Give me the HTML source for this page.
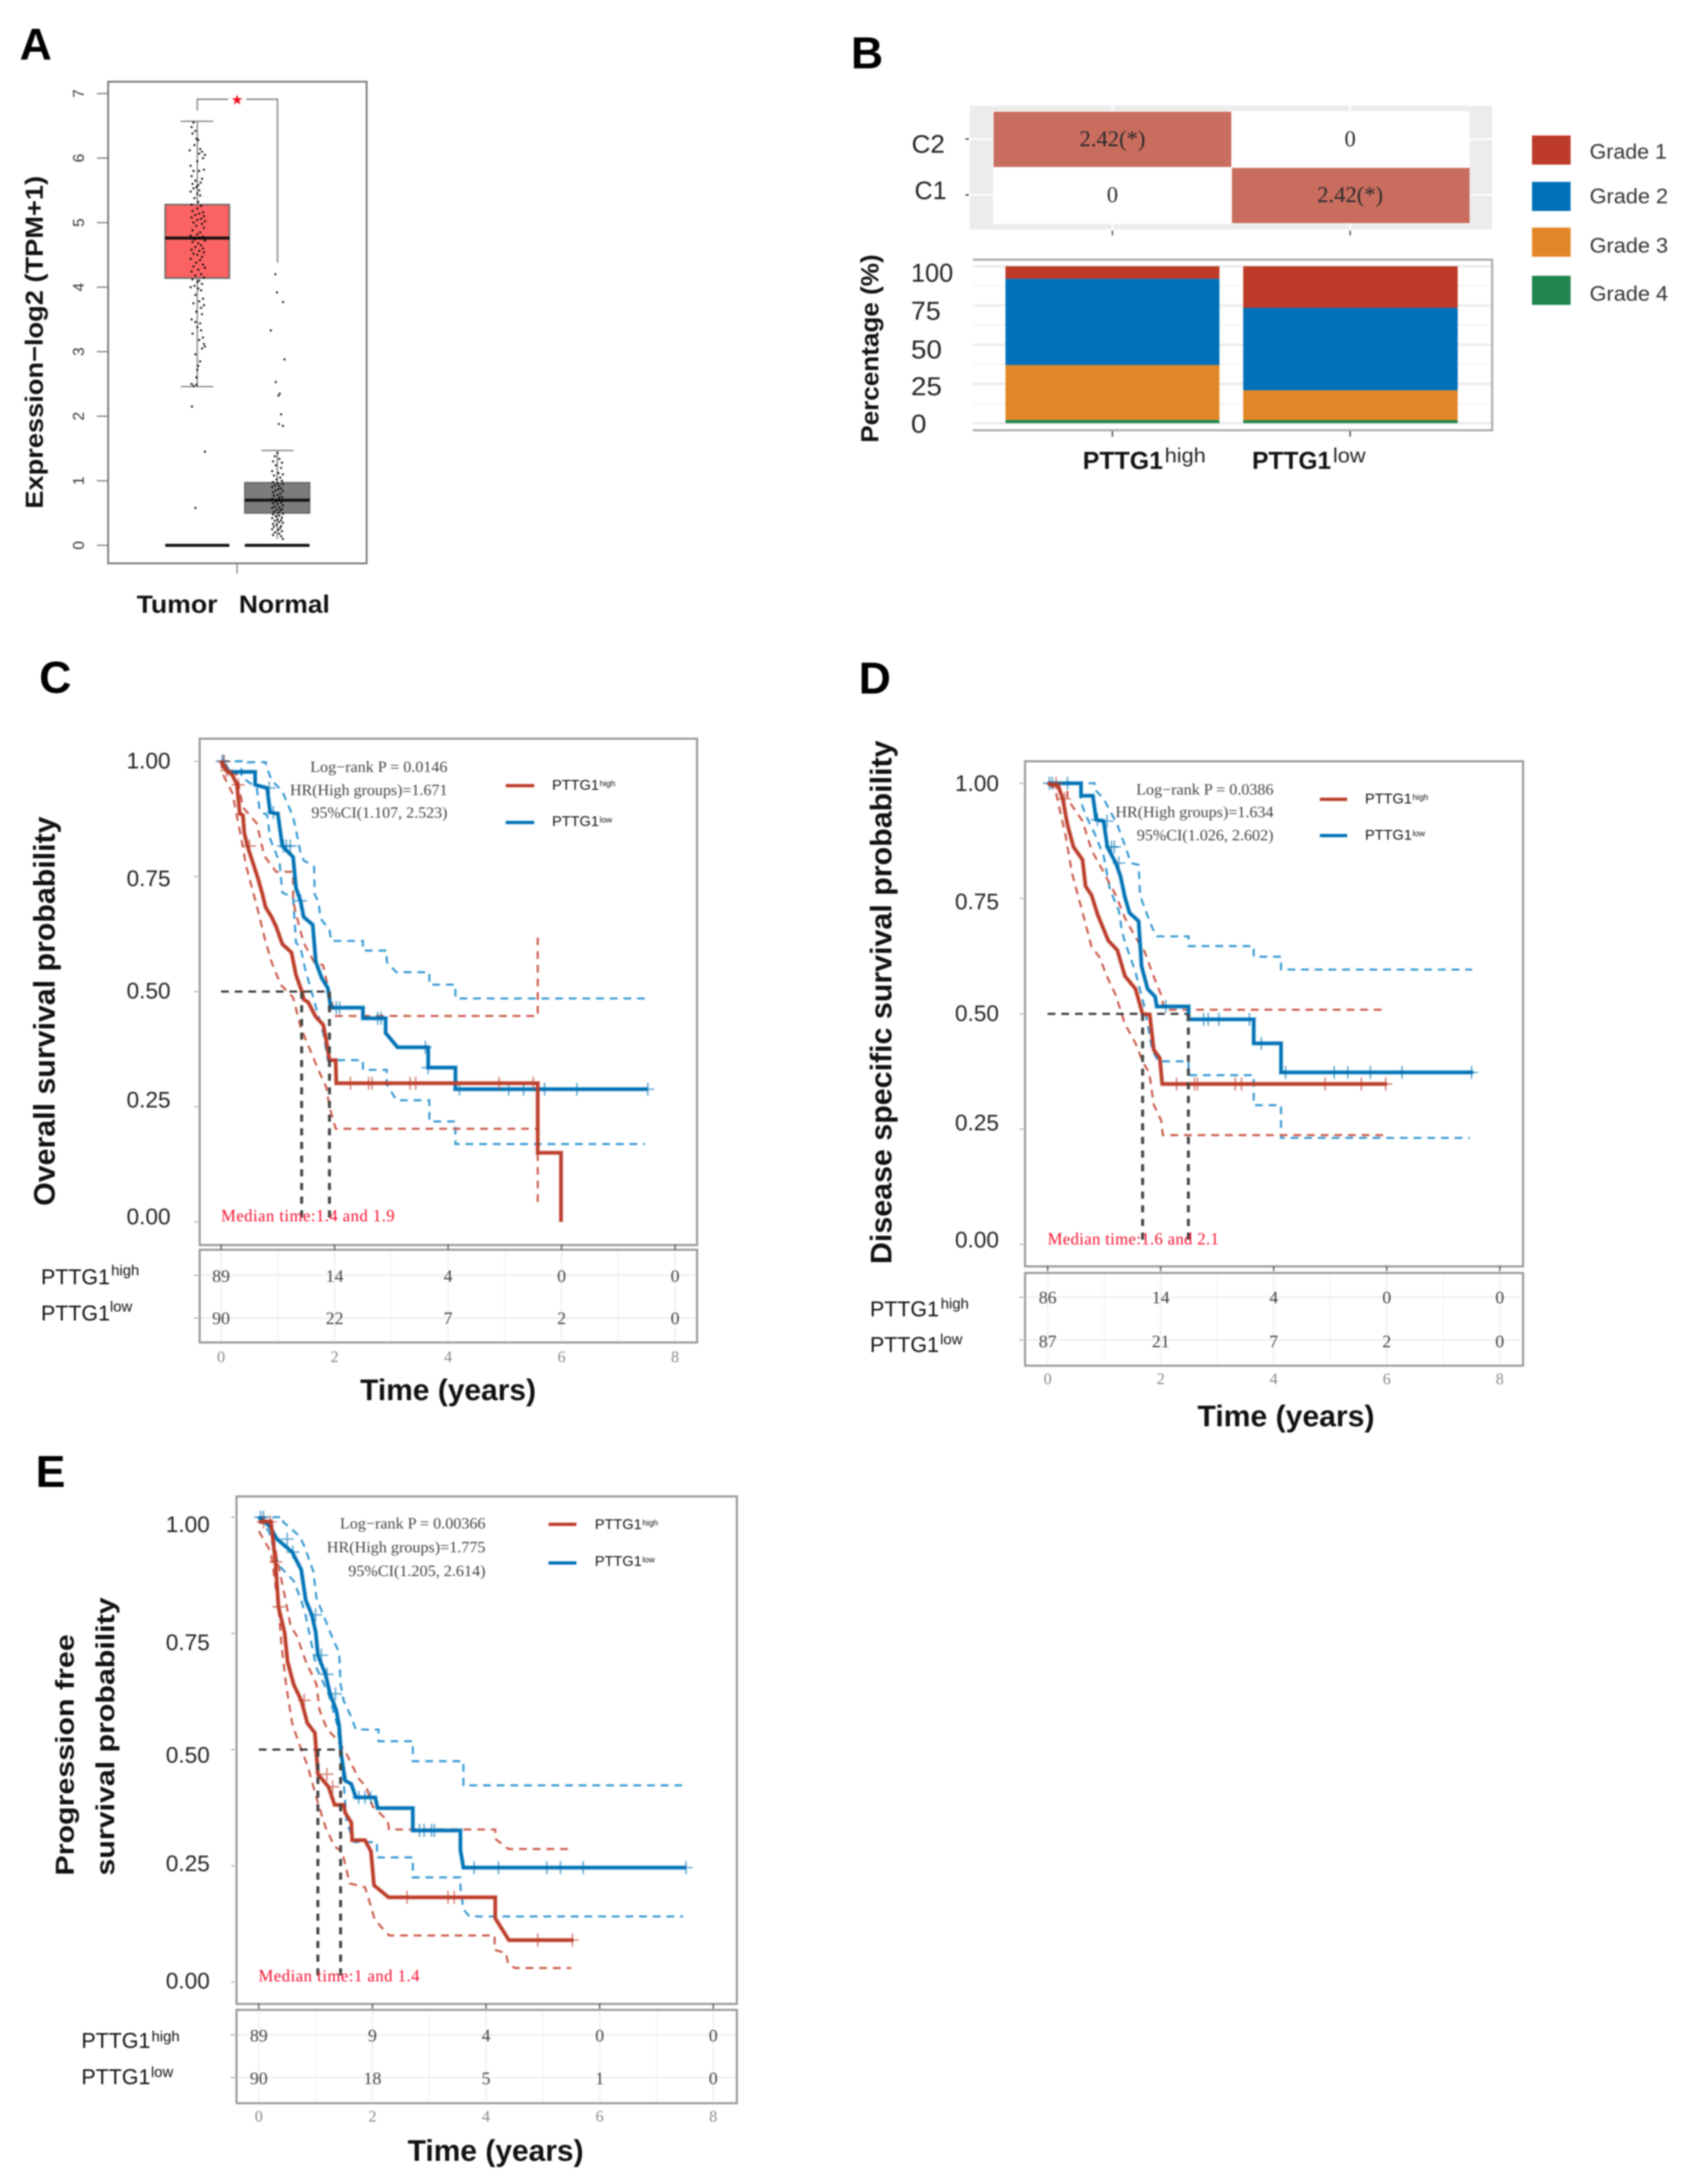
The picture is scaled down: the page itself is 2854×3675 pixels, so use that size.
<!DOCTYPE html>
<html lang="en">
<head>
<meta charset="utf-8">
<title>PTTG1 expression, grade and survival panels</title>
<style>
html,body{margin:0;padding:0;background:#fff;width:2854px;height:3675px;overflow:hidden}
svg{display:block;filter:blur(1.4px)}
text{font-family:"Liberation Sans",Arial,sans-serif}
.serif{font-family:"Liberation Serif","Times New Roman",serif}
.letter{font-size:75px;font-weight:bold;fill:#000}
.ttl{font-weight:bold;fill:#111}
.stat{font-family:"Liberation Serif",serif;font-size:26px;fill:#444}
.med{font-family:"Liberation Serif",serif;font-size:28px;fill:#f5102e}
.leg{font-size:24.5px;fill:#111}
.legs{font-size:14px;fill:#111}
.row{font-size:36px;fill:#111}
.rows{font-size:25px;fill:#111}
</style>
</head>
<body>
<svg id="fig" xmlns="http://www.w3.org/2000/svg" width="2854" height="3675" viewBox="0 0 2854 3675">
<rect x="0" y="0" width="2854" height="3675" fill="#fff"/>

<!-- Panel letters -->
<text class="letter" x="33" y="100">A</text>
<text class="letter" x="1432" y="115">B</text>
<text class="letter" x="66" y="1166">C</text>
<text class="letter" x="1445" y="1167">D</text>
<text class="letter" x="60" y="2502">E</text>

<!-- Panel A static text -->
<g id="panelA">
<text class="ttl" transform="translate(72,856) rotate(-90)" font-size="42" textLength="560" lengthAdjust="spacingAndGlyphs">Expression−log2 (TPM+1)</text>
<text class="ttl" x="230" y="1031" font-size="42" textLength="136" lengthAdjust="spacingAndGlyphs">Tumor</text>
<text class="ttl" x="402" y="1031" font-size="42" textLength="153" lengthAdjust="spacingAndGlyphs">Normal</text>
<text x="399" y="176" font-size="24" fill="#f01020" text-anchor="middle">★</text>
</g>

<!-- Panel B static text -->
<g id="panelB">
<text x="1534" y="257" font-size="43" fill="#222" textLength="56" lengthAdjust="spacingAndGlyphs">C2</text>
<text x="1539" y="335" font-size="43" fill="#222" textLength="54" lengthAdjust="spacingAndGlyphs">C1</text>
<text class="ttl" transform="translate(1478,745) rotate(-90)" font-size="42" textLength="317" lengthAdjust="spacingAndGlyphs">Percentage (%)</text>
<text class="ttl" x="1822" y="789" font-size="42" textLength="135" lengthAdjust="spacingAndGlyphs">PTTG1</text>
<text x="1960" y="778" font-size="34" fill="#222" textLength="69" lengthAdjust="spacingAndGlyphs">high</text>
<text class="ttl" x="2107" y="789" font-size="42" textLength="133" lengthAdjust="spacingAndGlyphs">PTTG1</text>
<text x="2243" y="778" font-size="34" fill="#222" textLength="55" lengthAdjust="spacingAndGlyphs">low</text>
<text x="2675" y="267" font-size="35" fill="#333" textLength="130" lengthAdjust="spacingAndGlyphs">Grade 1</text>
<text x="2675" y="342" font-size="35" fill="#333" textLength="132" lengthAdjust="spacingAndGlyphs">Grade 2</text>
<text x="2675" y="425" font-size="35" fill="#333" textLength="132" lengthAdjust="spacingAndGlyphs">Grade 3</text>
<text x="2675" y="506" font-size="35" fill="#333" textLength="132" lengthAdjust="spacingAndGlyphs">Grade 4</text>
</g>

<!-- Panel C -->
<g id="panelC"></g>
<g>
<text class="ttl" transform="translate(92,2029) rotate(-90)" font-size="50" textLength="655" lengthAdjust="spacingAndGlyphs">Overall survival probability</text>
<text class="stat" x="522" y="1299" textLength="231" lengthAdjust="spacingAndGlyphs">Log−rank P = 0.0146</text>
<text class="stat" x="488" y="1338" textLength="265" lengthAdjust="spacingAndGlyphs">HR(High groups)=1.671</text>
<text class="stat" x="524" y="1376" textLength="229" lengthAdjust="spacingAndGlyphs">95%CI(1.107, 2.523)</text>
<text class="med" x="372" y="2055" textLength="292">Median time:1.4 and 1.9</text>
<text class="leg" x="929" y="1329">PTTG1</text>
<text class="legs" x="1009" y="1323">high</text>
<text class="leg" x="929" y="1390">PTTG1</text>
<text class="legs" x="1009" y="1384">low</text>
<text class="row" x="69" y="2161">PTTG1</text>
<text class="rows" x="187" y="2146">high</text>
<text class="row" x="69" y="2222">PTTG1</text>
<text class="rows" x="185" y="2207">low</text>
<text class="ttl" x="606" y="2356" font-size="50" textLength="296" lengthAdjust="spacingAndGlyphs">Time (years)</text>
</g>

<!-- Panel D -->
<g id="panelD"></g>
<g>
<text class="ttl" transform="translate(1500,2127) rotate(-90)" font-size="50" textLength="881" lengthAdjust="spacingAndGlyphs">Disease specific survival probability</text>
<text class="stat" x="1912" y="1337" textLength="231" lengthAdjust="spacingAndGlyphs">Log−rank P = 0.0386</text>
<text class="stat" x="1877" y="1375" textLength="266" lengthAdjust="spacingAndGlyphs">HR(High groups)=1.634</text>
<text class="stat" x="1913" y="1414" textLength="230" lengthAdjust="spacingAndGlyphs">95%CI(1.026, 2.602)</text>
<text class="med" x="1763" y="2094" textLength="288">Median time:1.6 and 2.1</text>
<text class="leg" x="2297" y="1352">PTTG1</text>
<text class="legs" x="2377" y="1346">high</text>
<text class="leg" x="2297" y="1413">PTTG1</text>
<text class="legs" x="2377" y="1407">low</text>
<text class="row" x="1464" y="2215">PTTG1</text>
<text class="rows" x="1583" y="2202">high</text>
<text class="row" x="1464" y="2275">PTTG1</text>
<text class="rows" x="1582" y="2262">low</text>
<text class="ttl" x="2015" y="2400" font-size="50" textLength="298" lengthAdjust="spacingAndGlyphs">Time (years)</text>
</g>

<!-- Panel E -->
<g id="panelE"></g>
<g>
<text class="ttl" transform="translate(124,3156) rotate(-90)" font-size="44" textLength="406" lengthAdjust="spacingAndGlyphs">Progression free</text>
<text class="ttl" transform="translate(192,3156) rotate(-90)" font-size="44" textLength="468" lengthAdjust="spacingAndGlyphs">survival probability</text>
<text class="stat" x="572" y="2572" textLength="245" lengthAdjust="spacingAndGlyphs">Log−rank P = 0.00366</text>
<text class="stat" x="550" y="2612" textLength="267" lengthAdjust="spacingAndGlyphs">HR(High groups)=1.775</text>
<text class="stat" x="586" y="2652" textLength="231" lengthAdjust="spacingAndGlyphs">95%CI(1.205, 2.614)</text>
<text class="med" x="435" y="3334" textLength="271">Median time:1 and 1.4</text>
<text class="leg" x="1001" y="2573">PTTG1</text>
<text class="legs" x="1081" y="2567">high</text>
<text class="leg" x="1001" y="2635">PTTG1</text>
<text class="legs" x="1081" y="2629">low</text>
<text class="row" x="137" y="3446">PTTG1</text>
<text class="rows" x="255" y="3435">high</text>
<text class="row" x="137" y="3507">PTTG1</text>
<text class="rows" x="254" y="3495">low</text>
<text class="ttl" x="686" y="3636" font-size="50" textLength="296" lengthAdjust="spacingAndGlyphs">Time (years)</text>
</g>
</svg>

<script>
/* ---------- Panel A data ---------- */
const exprTicks = [0,1,2,3,4,5,6,7];
const tumorBox = {q1:4.14, median:4.76, q3:5.28, low:2.46, high:6.57};
const normalBox = {q1:0.50, median:0.70, q3:0.97, low:0, high:1.47};
const tumorValues = [6.55,6.48,6.42,6.38,6.3,6.28,6.2,6.14,6.12,6.1,6.07,6.05,6.0,5.95,5.88,5.82,5.8,5.8,5.72,5.68,5.65,5.62,5.6,5.58,5.55,5.53,5.5,5.48,5.45,5.42,5.38,5.32,5.28,5.26,5.22,5.18,5.16,5.14,5.12,5.1,5.08,5.06,5.04,5.02,5.0,4.98,4.95,4.92,4.88,4.85,4.82,4.8,4.78,4.76,4.74,4.72,4.7,4.68,4.65,4.62,4.6,4.58,4.56,4.54,4.52,4.5,4.47,4.44,4.42,4.38,4.35,4.32,4.3,4.27,4.24,4.2,4.18,4.15,4.12,4.1,4.08,4.05,4.02,4.0,3.98,3.95,3.88,3.82,3.78,3.75,3.72,3.68,3.62,3.58,3.5,3.46,3.44,3.38,3.33,3.28,3.22,3.18,3.12,3.08,3.05,2.96,2.85,2.78,2.72,2.6,2.5,2.49,2.47,2.15,1.45,0.58];
const tumorJitter = [-.4,-.6,-.2,-.5,-.1,.1,-.3,.3,-.8,.5,.2,.8,.6,.0,-.7,.7,-.4,.2,-.6,.5,-.2,.35,-.5,.1,-.1,-.4,.2,-.7,.0,.3,-.3,.1,-.6,.4,.0,-.5,.6,.2,-.2,.7,-.6,.4,.0,.8,-.4,.5,-.1,.7,-.5,.3,.0,-.7,.6,.2,-.3,.8,-.5,.1,.4,-.2,.6,-.6,.2,.7,-.4,.0,.5,-.7,.3,-.1,.6,-.4,.8,.1,-.6,.4,-.2,.7,-.5,.2,.0,.5,-.3,-.7,.1,.4,-.2,.6,.2,-.4,.7,.4,-.1,.5,-.6,-.2,.3,.0,.4,-.5,.6,.2,.7,.8,.5,-.2,.3,.1,.0,-.1,-.6,-.1,-.4,-.56,.8,-.2];
const normalValues = [4.2,3.92,3.77,3.33,2.88,2.53,2.35,2.32,2.03,1.88,1.85,1.43,1.38,1.34,1.3,1.28,1.24,1.2,1.15,1.12,1.1,1.08,1.05,1.02,1.0,.98,.96,.95,.93,.92,.9,.88,.87,.85,.84,.82,.8,.78,.77,.75,.74,.72,.7,.69,.68,.66,.65,.64,.62,.6,.59,.58,.56,.55,.54,.52,.5,.49,.48,.46,.45,.43,.42,.4,.39,.38,.36,.35,.33,.32,.3,.29,.27,.25,.24,.22,.2,.18,.16,.14,.1];
const normalJitter = [-.25,-.06,.62,-.75,.78,-.19,.25,.1,.4,.15,.6,.0,-.3,.2,-.5,.5,-.2,.4,-.6,.1,.6,-.4,.3,-.1,.5,-.5,.0,.6,-.3,.2,-.6,.4,.1,-.2,.6,-.5,.3,.0,-.4,.5,.2,-.6,.1,.7,-.2,.4,-.5,.0,.6,-.3,.2,-.6,.5,-.1,.3,-.4,.1,.6,-.5,.2,-.2,.5,-.6,.0,.4,-.3,.2,.6,-.5,-.1,.4,-.4,.3,-.6,.1,.5,-.3,.2,-.5,.4,.6];

/* ---------- Panel B data ---------- */
const heatRows = ['C2','C1'];
const heatValues = [[2.42,0],[0,2.42]];
const heatLabels = [['2.42(*)','0'],['0','2.42(*)']];
const gradeNames = ['Grade 1','Grade 2','Grade 3','Grade 4'];
const gradeHigh = [8,55,35,2];
const gradeLow = [26.5,52.6,19,1.9];
const pctTicks = [0,25,50,75,100];
const pctTickLabels = ['0','25','50','75','100'];

/* ---------- Shared KM axes ---------- */
const yearTicks = [0,2,4,6,8];
const survTicks = [1,0.75,0.5,0.25,0];
const survTickLabels = ['1.00','0.75','0.50','0.25','0.00'];

/* ---------- Panel C data ---------- */
const cHighT = [0,.09,.2,.28,.33,.385,.41,.465,.52,.65,.73,.785,.89,.97,1.08,1.24,1.32,1.43,1.455,1.535,1.67,1.8,1.855,1.91,2.02,2.03,5.58,5.99];
const cHighS = [1,.98,.97,.949,.886,.883,.844,.816,.795,.746,.711,.683,.662,.641,.603,.585,.536,.498,.483,.477,.445,.428,.393,.351,.351,.301,.15,0];
const cLowT = [0,.09,.14,.60,.81,.866,1.0,1.08,1.27,1.32,1.40,1.455,1.615,1.67,1.775,1.88,1.935,2.50,2.90,3.11,3.65,4.13,7.52];
const cLowS = [1,.987,.977,.949,.942,.889,.886,.816,.792,.725,.697,.662,.645,.564,.529,.508,.465,.442,.410,.379,.335,.288,.288];
const cLowUpT = [0,.47,.79,.89,1.08,1.27,1.32,1.40,1.455,1.64,1.65,1.72,1.75,1.91,1.94,2.50,2.92,3.09,3.67,4.13,7.52];
const cLowUpS = [1,.998,.991,.959,.935,.879,.851,.802,.785,.771,.711,.694,.659,.634,.610,.589,.564,.542,.515,.485,.485];
const cLowLoT = [0,.36,.63,.68,.81,.87,1.03,1.08,1.27,1.32,1.40,1.48,1.64,1.80,1.88,2.50,2.92,3.09,3.67,4.13,7.47];
const cLowLoS = [1,.966,.942,.893,.883,.830,.781,.715,.704,.606,.596,.550,.480,.410,.351,.330,.299,.264,.218,.169,.169];
const cHighUpT = [0,.28,.385,.63,.76,.97,1.27,1.32,1.455,1.64,1.80,1.91,2.02,5.58];
const cHighUpS = [1,.970,.900,.865,.795,.760,.697,.669,.606,.564,.557,.494,.447,.624];
const cHighLoT = [0,.04,.20,.36,.44,.65,.76,.89,1.05,1.27,1.40,1.535,1.70,1.855,1.91,2.02,5.58];
const cHighLoS = [1,.97,.931,.830,.774,.676,.620,.564,.515,.487,.424,.383,.334,.292,.250,.202,.033];
const cHighCensor = [.05,.1,.3,.5,2.28,2.6,2.66,3.33,3.43,4.9,5.5];
const cLowCensor = [.02,.05,.85,.92,1.1,1.15,1.22,1.4,2.03,2.09,2.76,2.82,3.6,3.65,4.2,5.07,5.33,5.7,6.27,7.52];
const cMedians = [1.42,1.91];
const cRiskHigh = [89,14,4,0,0];
const cRiskLow = [90,22,7,2,0];

/* ---------- Panel D data ---------- */
const dHighT = [0,.188,.268,.349,.456,.617,.670,.777,.885,1.072,1.233,1.367,1.555,1.678,1.807,1.877,1.984,2.027,6.005];
const dHighS = [1,.994,.966,.911,.862,.834,.777,.757,.715,.659,.638,.582,.554,.500,.498,.422,.404,.348,.348];
const dLowT = [0,.59,.80,.858,.99,1.056,1.206,1.287,1.367,1.448,1.609,1.662,1.769,1.903,1.93,2.493,3.646,4.129,7.53];
const dLowS = [1,.973,.973,.921,.918,.862,.827,.799,.753,.719,.701,.603,.554,.537,.516,.488,.436,.373,.373];
const dLowUpT = [0,.456,.831,.992,1.233,1.367,1.475,1.609,1.635,1.716,1.85,1.93,2.493,3.646,4.129,7.51];
const dLowUpS = [1,1,.987,.966,.910,.865,.827,.823,.757,.729,.687,.668,.647,.624,.596,.596];
const dLowLoT = [0,.59,.67,.831,.992,1.099,1.26,1.314,1.367,1.555,1.716,1.85,1.957,2.493,3.646,4.129,7.47];
const dLowLoS = [1,.959,.932,.891,.842,.771,.723,.680,.656,.590,.513,.422,.397,.367,.302,.231,.231];
const dHighUpT = [0,.349,.617,.777,.965,1.206,1.367,1.555,1.716,1.85,2.011,2.064,5.98];
const dHighUpS = [1,.966,.918,.855,.813,.757,.708,.666,.635,.589,.540,.509,.509];
const dHighLoT = [0,.134,.322,.429,.643,.777,.912,1.046,1.206,1.367,1.555,1.689,1.796,1.877,2.011,2.038,5.98];
const dHighLoS = [1,.987,.883,.806,.708,.645,.624,.582,.540,.478,.436,.394,.373,.303,.268,.237,.237];
const dHighCensor = [.15,.3,2.28,2.6,2.65,3.32,3.43,4.91,5.55,5.98];
const dLowCensor = [.03,.08,.35,.88,1.05,1.13,1.18,1.26,2.09,2.76,2.84,3.03,3.57,3.78,4.21,5.07,5.31,5.71,6.27,7.5];
const dMedians = [1.68,2.49];
const dRiskHigh = [86,14,4,0,0];
const dRiskLow = [87,21,7,2,0];

/* ---------- Panel E data ---------- */
const eHighT = [0,.213,.293,.347,.454,.507,.614,.747,.854,.987,1.041,1.227,1.334,1.494,1.521,1.628,1.644,1.87,1.974,2.028,2.284,4.162,4.402,5.54];
const eHighS = [.99,.991,.904,.807,.752,.689,.640,.606,.557,.536,.447,.420,.381,.381,.364,.343,.305,.305,.281,.208,.182,.137,.090,.090];
const eLowT = [0,.187,.32,.587,.747,.827,.934,1.003,1.041,1.174,1.254,1.361,1.414,1.451,1.521,1.628,1.708,2.05,2.092,2.711,3.549,3.602,7.52];
const eLowS = [1,.981,.953,.925,.887,.821,.790,.752,.703,.662,.620,.586,.551,.489,.433,.426,.397,.397,.374,.326,.284,.246,.246];
const eLowUpT = [0,.427,.720,.800,.961,1.014,1.174,1.307,1.414,1.441,1.494,1.628,1.708,2.108,2.711,3.602,7.52];
const eLowUpS = [1,.990,.959,.938,.883,.827,.778,.737,.709,.640,.605,.570,.543,.518,.475,.423,.423];
const eLowLoT = [0,.187,.347,.614,.747,.827,.934,1.014,1.227,1.387,1.467,1.547,1.681,2.081,2.711,3.549,3.602,3.709,7.47];
const eLowLoS = [1,.967,.897,.863,.821,.787,.724,.676,.620,.551,.475,.343,.301,.268,.225,.204,.156,.141,.141];
const eHighUpT = [0,.213,.32,.427,.56,.667,.827,1.014,1.067,1.201,1.334,1.521,1.761,1.894,2.001,2.268,2.294,4.162,4.392,5.50];
const eHighUpS = [1,.987,.911,.849,.766,.745,.690,.641,.586,.544,.527,.496,.437,.420,.378,.347,.328,.308,.286,.286];
const eHighLoT = [0,.213,.347,.40,.48,.587,.64,.72,.854,1.041,1.174,1.334,1.467,1.601,1.868,1.974,2.028,2.134,2.295,4.151,4.349,4.392,4.509,5.50];
const eHighLoS = [.97,.925,.807,.724,.640,.557,.537,.509,.467,.385,.333,.291,.281,.212,.204,.163,.139,.121,.100,.069,.062,.038,.030,.030];
const eHighCensor = [.08,.2,.3,.35,.8,1.2,1.3,2.61,3.33,3.44,4.91,5.52];
const eLowCensor = [.03,.08,.5,.6,1.0,1.1,1.2,1.35,1.76,1.87,1.97,2.83,2.91,3.04,3.09,3.79,4.22,5.07,5.31,5.71,7.52];
const eMedians = [1.04,1.44];
const eRiskHigh = [89,9,4,0,0];
const eRiskLow = [90,18,5,1,0];

/* ---------- helpers ---------- */
const SVGNS = 'http://www.w3.org/2000/svg';
function mk(parent, tag, attrs, txt){
  const n = document.createElementNS(SVGNS, tag);
  for (const k in attrs) n.setAttribute(k, attrs[k]);
  if (txt !== undefined) n.textContent = txt;
  parent.appendChild(n);
  return n;
}

/* ---------- Panel A ---------- */
(function(){
  const g = document.getElementById('panelA');
  const yA = v => 917.6 - v * 108.6;
  const frame = mk(g,'rect',{x:182,y:137.5,width:435,height:810.5,fill:'none',stroke:'#777',"stroke-width":3});
  
  
  exprTicks.forEach(v => {
    const t = mk(g,'line',{x1:163,x2:182,y1:yA(v),y2:yA(v),stroke:'#777',"stroke-width":2});
    
    
    const l = mk(g,'text',{transform:`translate(141,${yA(v)}) rotate(-90)`,"text-anchor":'middle',"font-size":26,fill:'#333'},String(v));
    
    
  });
  const xt = mk(g,'line',{x1:399,x2:399,y1:948,y2:965,stroke:'#777',"stroke-width":2});
  
  
  const br = mk(g,'path',{d:'M332 186V167H384M414 167H467V442',fill:'none',stroke:'#888',"stroke-width":2.5});
  
  

  function box(b, x0, x1, fill, capX0, capX1){
    const cx = (x0+x1)/2;
    const w = mk(g,'path',{d:`M${capX0} ${yA(b.high)}H${capX1}M${cx} ${yA(b.high)}V${yA(b.q3)}` + (b.low>0 ? `M${cx} ${yA(b.q1)}V${yA(b.low)}M${capX0} ${yA(b.low)}H${capX1}` : `M${cx} ${yA(b.q1)}V${yA(0.1)}`),stroke:'#777',"stroke-width":2,fill:'none'});
    
    
    const r = mk(g,'rect',{x:x0,y:yA(b.q3),width:x1-x0,height:yA(b.q1)-yA(b.q3),fill:fill,stroke:'#666',"stroke-width":2.5});
    
    
    const m = mk(g,'line',{x1:x0,x2:x1,y1:yA(b.median),y2:yA(b.median),stroke:'#111',"stroke-width":5});
    
    
    const z = mk(g,'line',{x1:x0,x2:x1,y1:yA(0),y2:yA(0),stroke:'#111',"stroke-width":5});
    
    
  }
  box(tumorBox,278,386,'#fb6262',304,359);
  box(normalBox,412,521,'#7c7c7c',440,494);

  tumorValues.forEach((v,i) => {
    const d = mk(g,'circle',{cx:332+(tumorJitter[i]||0)*16,cy:yA(v),r:1.7,fill:'#000'});
    
    
  });
  normalValues.forEach((v,i) => {
    const d = mk(g,'circle',{cx:467+(normalJitter[i]||0)*15,cy:yA(v),r:1.7,fill:'#000'});
    
    
  });
})();

/* ---------- Panel B ---------- */
(function(){
  const g = document.getElementById('panelB');
  const bg = mk(g,'rect',{x:1632,y:178,width:879,height:208,fill:'#ececec'});
  
  
  const colX = [1872,2272];
  const rowY = [234,328];
  const gr = mk(g,'path',{d:'M1632 234H2511M1632 328H2511M1872 178V386M2272 178V386',stroke:'#fff',"stroke-width":3});
  
  
  const pn = mk(g,'rect',{x:1671,y:187,width:802,height:190,fill:'#fff'});
  
  
  heatRows.forEach((rowName,r) => {
    heatValues[r].forEach((v,c) => {
      const cell = mk(g,'rect',{x:1672+c*401,y:188+r*94.5,width:400,height:93,fill:v>0?'#c96d5f':'#fff'});
      
      
      const t = mk(g,'text',{class:'serif',x:colX[c],y:rowY[r]+12,"text-anchor":'middle',"font-size":38,fill:'#2a2a2a'},heatLabels[r][c]);
      
      
    });
    const tk = mk(g,'line',{x1:1625,x2:1630,y1:rowY[r],y2:rowY[r],stroke:'#555',"stroke-width":3});
    
    
  });
  colX.forEach(x => {
    const t = mk(g,'line',{x1:x,x2:x,y1:388,y2:396,stroke:'#555',"stroke-width":2.5});
    
    
    const t2 = mk(g,'line',{x1:x,x2:x,y1:724,y2:735,stroke:'#555',"stroke-width":2.5});
    
    
  });

  const yB = p => 712 - p * 2.64;
  for (let p = 0; p <= 100; p += 12.5){
    const l = mk(g,'line',{x1:1637,x2:2511,y1:yB(p),y2:yB(p),stroke:p%25===0?'#ececec':'#f6f6f6',"stroke-width":p%25===0?4:3});
    
    
  }
  const fr = mk(g,'path',{d:'M1637 437H2511V724H1637',fill:'none',stroke:'#aaa',"stroke-width":3.5});
  
  
  const colors = ['#bc3a27','#0071b8','#e18727','#20854e'];
  [[gradeHigh,1692,360],[gradeLow,2092,361]].forEach(([vals,x,w]) => {
    let top = 100;
    vals.forEach((v,i) => {
      const r = mk(g,'rect',{x:x,y:yB(top),width:w,height:v*2.64,fill:colors[i]});
      
      
      top -= v;
    });
  });
  const pctBase = {0:728,25:665,50:603,75:538,100:474};
  const pctWide = {0:26,25:52,50:52,75:50,100:71};
  pctTicks.forEach((p,i) => {
    const t = mk(g,'text',{x:1533,y:pctBase[p],"font-size":44,fill:'#222',textLength:pctWide[p],lengthAdjust:'spacingAndGlyphs'},pctTickLabels[i]);
    
    
  });
  gradeNames.forEach((nm,i) => {
    const boxes = [228,306,383,464];
    const r = mk(g,'rect',{x:2578,y:boxes[i],width:65,height:49,fill:colors[i]});
    
    
  });
})();

/* ---------- KM panels ---------- */
const RED = '#bc3c29', BLUE = '#0072b5', RED_CI = '#cc5f50', BLUE_CI = '#3b9bd3';

function stepPath(xs, ys, T, S){
  let d = `M${xs(T[0])} ${ys(S[0])}`;
  for (let i = 1; i < T.length; i++){
    if (T[i]-T[i-1] < 0.3 && S[i] !== S[i-1]) d += `L${xs(T[i])} ${ys(S[i])}`;
    else d += `H${xs(T[i])}V${ys(S[i])}`;
  }
  return d;
}
function survAt(T, S, t){
  let v = S[0];
  for (let i = 0; i < T.length; i++){ if (T[i] <= t) v = S[i]; }
  return v;
}

function drawKM(cfg){
  const g = document.getElementById(cfg.id);
  const xs = t => cfg.x0 + t * cfg.ppy;
  const ys = s => cfg.y1 + (1 - s) * cfg.ppu;
  const fr = mk(g,'rect',{x:cfg.frame[0],y:cfg.frame[1],width:cfg.frame[2]-cfg.frame[0],height:cfg.frame[3]-cfg.frame[1],fill:'#fff',stroke:'#999',"stroke-width":3.5});
  
  
  const tb = mk(g,'rect',{x:cfg.frame[0],y:cfg.table[0],width:cfg.frame[2]-cfg.frame[0],height:cfg.table[1]-cfg.table[0],fill:'#fff',stroke:'#999',"stroke-width":3.5});
  
  

  for (let t = 0; t <= 8; t++){
    const v = mk(g,'line',{x1:cfg.x0+t*cfg.ppy,x2:cfg.x0+t*cfg.ppy,y1:cfg.table[0]+3,y2:cfg.table[1]-3,stroke:'#f0f0f0',"stroke-width":t%2?1.5:2.5});
    
    
  }
  cfg.rowY.forEach(y => {
    const h = mk(g,'line',{x1:cfg.frame[0]+3,x2:cfg.frame[2]-3,y1:y,y2:y,stroke:'#ececec',"stroke-width":2.5});
    
    
    const tk = mk(g,'line',{x1:cfg.frame[0]-10,x2:cfg.frame[0]-3,y1:y,y2:y,stroke:'#aaa',"stroke-width":2});
    
    
  });

  yearTicks.forEach((t,i) => {
    const k = mk(g,'line',{x1:xs(t),x2:xs(t),y1:cfg.frame[3]-1,y2:cfg.frame[3]+8,stroke:'#666',"stroke-width":2.5});
    
    
    const l = mk(g,'text',{class:'serif',x:xs(t),y:cfg.xLabBase,"text-anchor":'middle',"font-size":27,fill:'#888'},String(t));
    
    
    const a = mk(g,'text',{class:'serif',x:xs(t),y:cfg.numBase[0],"text-anchor":'middle',"font-size":30,fill:'#444'},String(cfg.riskHigh[i]));
    
    
    const b = mk(g,'text',{class:'serif',x:xs(t),y:cfg.numBase[1],"text-anchor":'middle',"font-size":30,fill:'#444'},String(cfg.riskLow[i]));
    
    
  });
  survTicks.forEach((s,i) => {
    const k = mk(g,'line',{x1:cfg.frame[0]-9,x2:cfg.frame[0]-3,y1:ys(s),y2:ys(s),stroke:'#aaa',"stroke-width":2});
    
    
    const l = mk(g,'text',{x:cfg.tickRight,y:ys(s)+cfg.labelDy[i],"text-anchor":'end',"font-size":38,fill:'#222'},survTickLabels[i]);
    
    
  });

  cfg.ci.forEach(c => {
    const p = mk(g,'path',{d:stepPath(xs,ys,c.T,c.S),fill:'none',stroke:c.color,"stroke-width":3.6,"stroke-dasharray":'13 10'});
    
    
  });

  const medTop = ys(0.5);
  const mh = mk(g,'line',{x1:xs(0),x2:xs(cfg.medians[1]),y1:medTop,y2:medTop,stroke:'#333',"stroke-width":3.5,"stroke-dasharray":'13 10'});
  
  

  [[cfg.low,BLUE,cfg.lowCensor],[cfg.high,RED,cfg.highCensor]].forEach(([s,col,cens]) => {
    const halo = mk(g,'path',{d:stepPath(xs,ys,s.T,s.S),fill:'none',stroke:col,"stroke-width":8.5,opacity:0.25});
    
    
    const p = mk(g,'path',{d:stepPath(xs,ys,s.T,s.S),fill:'none',stroke:col,"stroke-width":5.5});
    
    
    cens.forEach(t => {
      const x = xs(t), y = ys(survAt(s.T,s.S,t));
      const m = mk(g,'path',{d:`M${x} ${y-11}V${y+11}M${x-11} ${y}H${x+11}`,stroke:col,"stroke-width":2.6,opacity:0.6,fill:'none'});
      
      
    });
  });

  cfg.medians.forEach(t => {
    const v = mk(g,'line',{x1:xs(t),x2:xs(t),y1:medTop,y2:ys(0),stroke:'#444',"stroke-width":5,"stroke-dasharray":'12 11'});
    
    
  });

  const l1 = mk(g,'line',{x1:cfg.leg[0],x2:cfg.leg[1],y1:cfg.leg[2],y2:cfg.leg[2],stroke:RED,"stroke-width":5.5});
  
  
  const l2 = mk(g,'line',{x1:cfg.leg[0],x2:cfg.leg[1],y1:cfg.leg[3],y2:cfg.leg[3],stroke:BLUE,"stroke-width":5.5});
  
  
}

drawKM({id:'panelC',x0:372,ppy:95.5,y1:1281,ppu:775,frame:[336,1243,1173,2095],table:[2103,2259],rowY:[2146,2218],numBase:[2157,2228],xLabBase:2292,tickRight:287,labelDy:[12,16,11.5,1,4],leg:[851,899,1322,1384],
  high:{T:cHighT,S:cHighS},low:{T:cLowT,S:cLowS},
  ci:[{T:cLowUpT,S:cLowUpS,color:BLUE_CI},{T:cLowLoT,S:cLowLoS,color:BLUE_CI},{T:cHighUpT,S:cHighUpS,color:RED_CI},{T:cHighLoT,S:cHighLoS,color:RED_CI}],
  highCensor:cHighCensor,lowCensor:cLowCensor,medians:cMedians,riskHigh:cRiskHigh,riskLow:cRiskLow});

drawKM({id:'panelD',x0:1763,ppy:95.1,y1:1318,ppu:776,frame:[1725,1281,2563,2131],table:[2142,2298],rowY:[2183,2255],numBase:[2193,2267],xLabBase:2329,tickRight:1681,labelDy:[13,18,12,2,5],leg:[2221,2267,1345,1406],
  high:{T:dHighT,S:dHighS},low:{T:dLowT,S:dLowS},
  ci:[{T:dLowUpT,S:dLowUpS,color:BLUE_CI},{T:dLowLoT,S:dLowLoS,color:BLUE_CI},{T:dHighUpT,S:dHighUpS,color:RED_CI},{T:dHighLoT,S:dHighLoS,color:RED_CI}],
  highCensor:dHighCensor,lowCensor:dLowCensor,medians:dMedians,riskHigh:dRiskHigh,riskLow:dRiskLow});

drawKM({id:'panelE',x0:435.5,ppy:95.6,y1:2553,ppu:782,frame:[398,2518,1240,3372],table:[3382,3539],rowY:[3424,3496],numBase:[3435,3507],xLabBase:3570,tickRight:353,labelDy:[25,28,22,9,11],leg:[923,970,2565,2630],
  high:{T:eHighT,S:eHighS},low:{T:eLowT,S:eLowS},
  ci:[{T:eLowUpT,S:eLowUpS,color:BLUE_CI},{T:eLowLoT,S:eLowLoS,color:BLUE_CI},{T:eHighUpT,S:eHighUpS,color:RED_CI},{T:eHighLoT,S:eHighLoS,color:RED_CI}],
  highCensor:eHighCensor,lowCensor:eLowCensor,medians:eMedians,riskHigh:eRiskHigh,riskLow:eRiskLow});
</script>
</body>
</html>
